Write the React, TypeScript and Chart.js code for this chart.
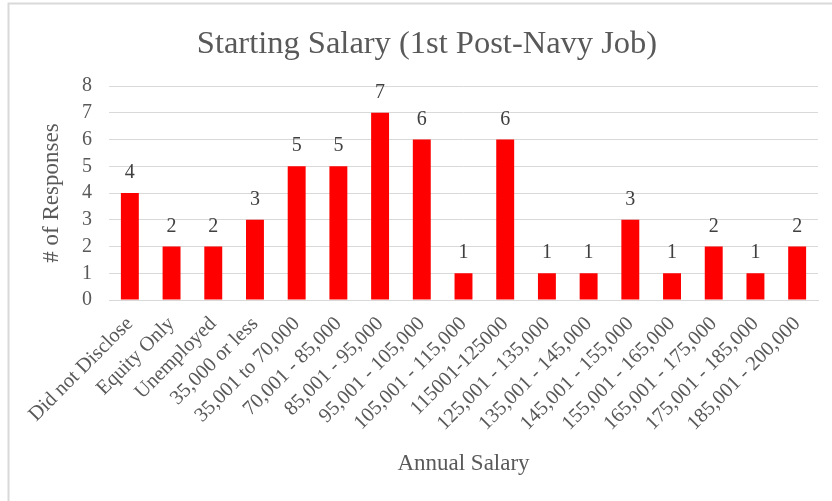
import React, { useEffect, useRef } from "react";
import { Chart, registerables } from "chart.js";

Chart.register(...registerables);

const categories = [
  "Did not Disclose",
  "Equity Only",
  "Unemployed",
  "35,000 or less",
  "35,001 to 70,000",
  "70,001 - 85,000",
  "85,001 - 95,000",
  "95,001 - 105,000",
  "105,001 - 115,000",
  "115001-125000",
  "125,001 - 135,000",
  "135,001 - 145,000",
  "145,001 - 155,000",
  "155,001 - 165,000",
  "165,001 - 175,000",
  "175,001 - 185,000",
  "185,001 - 200,000",
];
const responses = [4, 2, 2, 3, 5, 5, 7, 6, 1, 6, 1, 1, 3, 1, 2, 1, 2];
const titleText = "Starting Salary (1st Post-Navy Job)";
const yTitle = "# of Responses";
const xTitle = "Annual Salary";

const FONT = "'Liberation Serif', 'Times New Roman', serif";

const decorPlugin = {
  id: "decor",
  beforeDraw(chart: any) {
    const ctx = chart.ctx;
    ctx.save();
    ctx.fillStyle = "#ffffff";
    ctx.fillRect(0, 0, chart.width, chart.height);
    ctx.strokeStyle = "#d9d9d9";
    ctx.lineWidth = 2;
    ctx.beginPath();
    ctx.moveTo(8.5, chart.height);
    ctx.lineTo(8.5, 3.5);
    ctx.lineTo(chart.width, 3.5);
    ctx.stroke();
    ctx.restore();
  },
  afterDatasetsDraw(chart: any) {
    const ctx = chart.ctx;
    const area = chart.chartArea;
    ctx.save();
    // data labels
    ctx.fillStyle = "#404040";
    ctx.font = `20px ${FONT}`;
    ctx.textAlign = "center";
    ctx.textBaseline = "alphabetic";
    const meta = chart.getDatasetMeta(0);
    meta.data.forEach((bar: any, i: number) => {
      ctx.fillText(String(responses[i]), bar.x, bar.y - 15);
    });
    // title
    ctx.fillStyle = "#595959";
    ctx.font = `32.5px ${FONT}`;
    ctx.textBaseline = "middle";
    ctx.fillText(titleText, 427, 44);
    // axis titles
    ctx.font = `23px ${FONT}`;
    ctx.fillText(xTitle, (area.left + area.right) / 2, 464);
    ctx.save();
    ctx.translate(52, (area.top + area.bottom) / 2);
    ctx.rotate(-Math.PI / 2);
    ctx.fillText(yTitle, 0, 0);
    ctx.restore();
    ctx.restore();
  },
};

export default function App() {
  const ref = useRef<HTMLCanvasElement>(null);
  useEffect(() => {
    if (!ref.current) return;
    const chart = new Chart(ref.current, {
      type: "bar",
      data: {
        labels: categories,
        datasets: [
          {
            data: responses,
            backgroundColor: "#ff0000",
            borderWidth: 0,
            barPercentage: 0.43,
            categoryPercentage: 1,
          },
        ],
      },
      options: {
        animation: false,
        responsive: false,
        maintainAspectRatio: false,
        devicePixelRatio: 1,
        layout: { padding: { top: 86, left: 0, right: 14, bottom: 0 } },
        plugins: {
          legend: { display: false },
          title: { display: false },
          tooltip: { enabled: false },
        },
        scales: {
          x: {
            grid: { display: false, drawTicks: false },
            border: { display: true, color: "#d9d9d9", width: 1 },
            ticks: {
              autoSkip: false,
              maxRotation: 45,
              minRotation: 45,
              padding: 12,
              color: "#595959",
              font: { family: FONT, size: 20.5 },
            },
            afterFit(scale: any) {
              scale.height = 201;
            },
          },
          y: {
            min: 0,
            max: 8,
            grid: { color: "#d9d9d9", lineWidth: 1, drawTicks: false },
            border: { display: false },
            ticks: {
              stepSize: 1,
              autoSkip: false,
              padding: 17,
              color: "#595959",
              font: { family: FONT, size: 20 },
            },
            afterFit(scale: any) {
              scale.width = 109;
            },
          },
        },
      },
      plugins: [decorPlugin],
    });
    return () => chart.destroy();
  }, []);
  return (
    <div style={{ position: "absolute", left: 0, top: 0, width: 832, height: 501 }}>
      <canvas ref={ref} width={832} height={501} style={{ width: 832, height: 501, display: "block" }} />
    </div>
  );
}
